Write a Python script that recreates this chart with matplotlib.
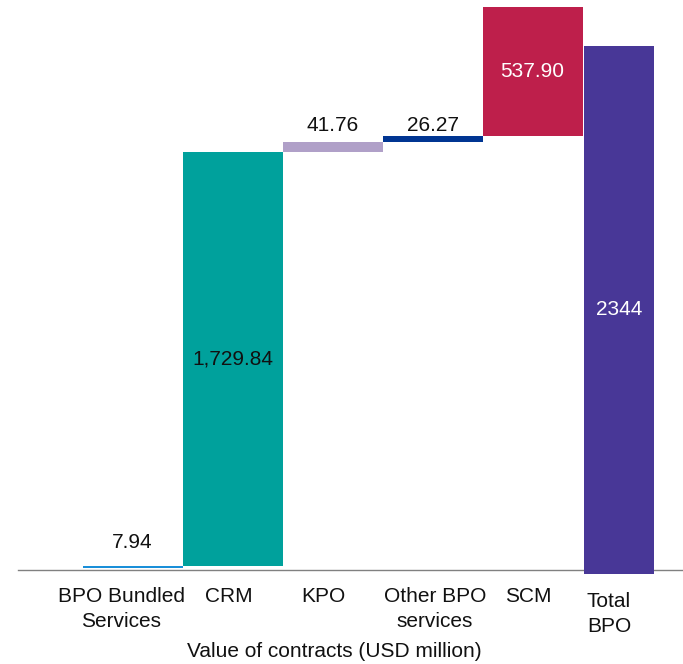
import matplotlib.pyplot as plt
import numpy as np

plt.rcParams['font.family'] = ['Liberation Sans', 'DejaVu Sans']

# Données du graphique en cascade
categories = ['BPO Bundled\nServices', 'CRM', 'KPO', 'Other BPO\nservices', 'SCM']
values = [7.94, 1729.84, 41.76, 26.27, 537.90]
value_labels = ['7.94', '1,729.84', '41.76', '26.27', '537.90']
colors = ['#1a8fd9', '#00a19c', '#b0a0c8', '#003592', '#be1f4b']
label_colors = ['#111111', '#111111', '#111111', '#111111', 'white']
# décalage du label au-dessus de la barre (pixels), None = centré
label_offsets = [18, None, 11, 5, None]

total_label = 'Total\nBPO'
total_value = 2344
total_color = '#483797'

# positions des libellés de l'axe x (un peu décalées comme dans l'original)
tick_x = [-0.115, 0.965, 1.905, 3.025, 3.955]
total_tick_x = 4.765
total_x = 4.865
total_width = 0.70

W, H = 683, 664
fig = plt.figure(figsize=(W / 100, H / 100), dpi=100)
ax = fig.add_axes([18 / W, 94 / H, 665 / W, 570 / H])

x = np.arange(len(values))
bottoms = np.concatenate([[0], np.cumsum(values)[:-1]])
ax.bar(x, values, bottom=bottoms, width=1.0, color=colors, linewidth=0)

ax.set_xlim(-1.145, 5.505)
ax.set_ylim(-8.4, 2372.6)

for xi, b, v, lab, c, off in zip(x, bottoms, values, value_labels, label_colors, label_offsets):
    if off is None:
        ax.text(xi, b + v / 2, lab, ha='center', va='center', fontsize=15, color=c)
    else:
        ax.annotate(lab, xy=(xi, b + v), xytext=(0, off), textcoords='offset pixels',
                    ha='center', va='baseline', fontsize=15, color=c)

# barre du total sur un axe jumeau (échelle différente dans l'original)
ax2 = ax.twinx()
ax2.set_ylim(17.76, 2548.2)
ax2.bar([total_x], [total_value], width=total_width, color=total_color, linewidth=0, clip_on=False)
ax2.text(total_x, total_value / 2, str(total_value), ha='center', va='center', fontsize=15, color='white')

for a in (ax, ax2):
    for s in a.spines.values():
        s.set_visible(False)
    a.set_xticks([])
    a.set_yticks([])
ax2.set_xlim(ax.get_xlim())
ax.spines['bottom'].set_visible(True)
ax.spines['bottom'].set_color('#808080')
ax.spines['bottom'].set_linewidth(1.0)
ax.spines['bottom'].set_zorder(0)

for tx, lab in zip(tick_x, categories):
    ax.annotate(lab, xy=(tx, 0), xycoords=('data', 'axes fraction'), xytext=(0, -17),
                textcoords='offset pixels', ha='center', va='top', fontsize=15,
                color='#111111', linespacing=1.42)
ax.annotate(total_label, xy=(total_tick_x, 0), xycoords=('data', 'axes fraction'), xytext=(0, -22),
            textcoords='offset pixels', ha='center', va='top', fontsize=15,
            color='#111111', linespacing=1.42)

fig.text(334 / W, 1 - 657 / H, 'Value of contracts (USD million)', ha='center', va='baseline',
         fontsize=15, color='#111111')

fig.savefig('out.png', dpi=100)
